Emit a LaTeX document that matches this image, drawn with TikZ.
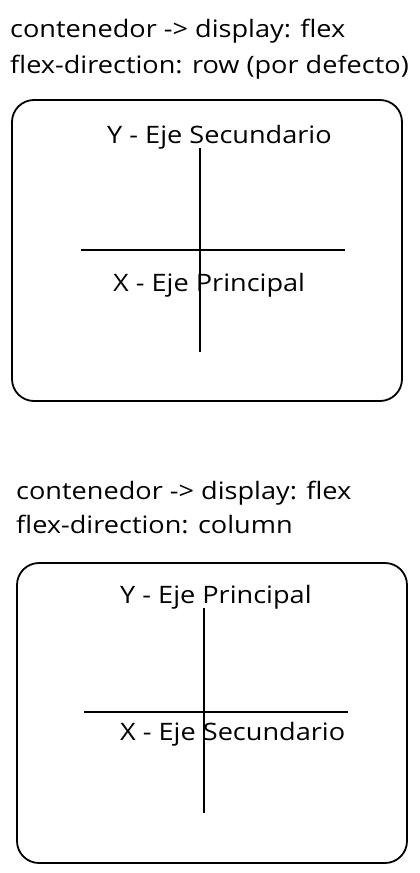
\documentclass[tikz,border=0pt]{standalone}
\usepackage{fontspec}
\setmainfont[FakeStretch=1.13]{Open Sans}
\tikzset{
  txt/.style={anchor=base west, inner sep=0pt},
  caja/.style={draw, line width=1.8pt, rounded corners=22pt},
  eje/.style={line width=1.6pt}
}
\begin{document}
\begin{tikzpicture}[x=1pt,y=-1pt,font=\fontsize{24}{29}\selectfont]
	\useasboundingbox (0,0) rectangle (420,873);
	
	% panel 1: row
	\node[txt] (titA1) at (10,37) {contenedor -> display: flex};
	\node[txt] (titA2) at (10,73) {flex-direction: row (por defecto)};
	\draw[caja] (12,100) rectangle (402,401);
	\coordinate (vA1) at (200,148);
	\coordinate (vA2) at (200,352);
	\coordinate (hA1) at (81,250);
	\coordinate (hA2) at (345,250);
	\draw[eje] (vA1) -- (vA2);
	\draw[eje] (hA1) -- (hA2);
	\node[txt] (yA) at (107,143) {Y - Eje Secundario};
	\node[txt] (xA) at (113,291) {X - Eje Principal};
	
	% panel 2: column
	\node[txt] (titB1) at (16,499) {contenedor -> display: flex};
	\node[txt] (titB2) at (16,533) {flex-direction: column};
	\draw[caja] (17,563) rectangle (407,863);
	\coordinate (vB1) at (204,608);
	\coordinate (vB2) at (204,813);
	\coordinate (hB1) at (84,712);
	\coordinate (hB2) at (348,712);
	\draw[eje] (vB1) -- (vB2);
	\draw[eje] (hB1) -- (hB2);
	\node[txt] (yB) at (120,603) {Y - Eje Principal};
	\node[txt] (xB) at (120,740) {X - Eje Secundario};
\end{tikzpicture}
\end{document}
